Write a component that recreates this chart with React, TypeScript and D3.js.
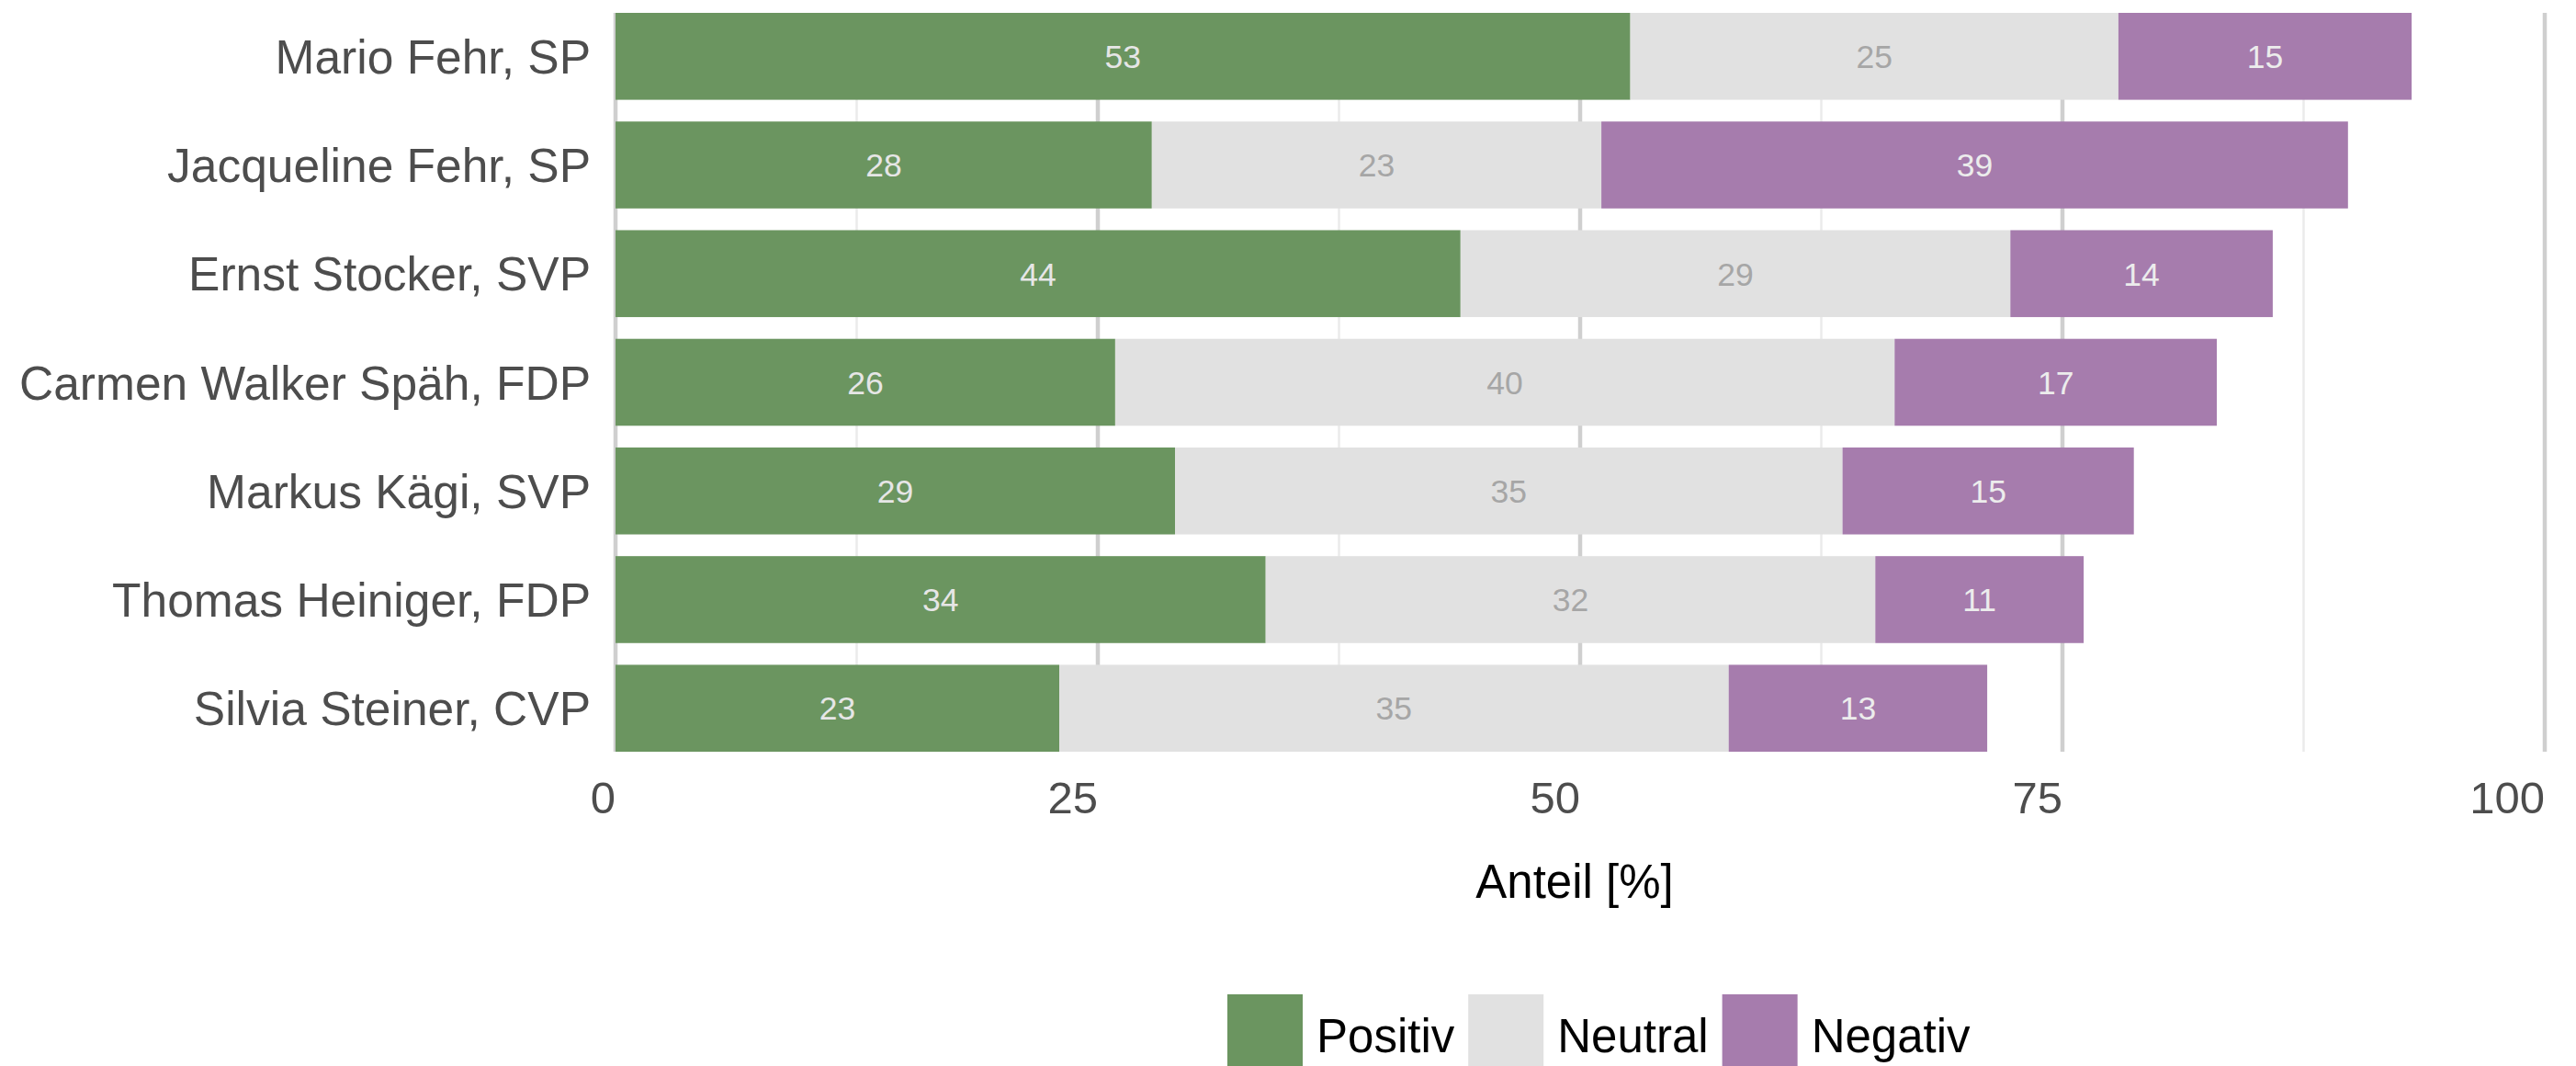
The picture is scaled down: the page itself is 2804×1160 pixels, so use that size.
// Stacked horizontal bar chart: Anteil positiver / neutraler / negativer Nennungen pro Person
import React, { useEffect, useRef } from 'react';
import * as d3 from 'd3';

const politicians = [
  'Mario Fehr, SP',
  'Jacqueline Fehr, SP',
  'Ernst Stocker, SVP',
  'Carmen Walker Späh, FDP',
  'Markus Kägi, SVP',
  'Thomas Heiniger, FDP',
  'Silvia Steiner, CVP',
];
const positiv = [52.6, 27.8, 43.8, 25.9, 29.0, 33.7, 23.0];
const neutral = [25.3, 23.3, 28.5, 40.4, 34.6, 31.6, 34.7];
const negativ = [15.2, 38.7, 13.6, 16.7, 15.1, 10.8, 13.4];

const categories = ['Positiv', 'Neutral', 'Negativ'];
const colors = ['#6b9560', '#e1e1e1', '#a67cad'];
const labelColors = ['#e6e6e6', '#a6a6a6', '#ececec'];
const xTicks = [0, 25, 50, 75, 100];
const xMinorTicks = [12.5, 37.5, 62.5, 87.5];

const FONT = '"Liberation Sans", Arial, Helvetica, sans-serif';

const App = () => {
  const svgRef = useRef(null);

  useEffect(() => {
    const width = 2804;
    const height = 1160;
    const margin = { top: 14, right: 34, bottom: 342, left: 670 };

    const svg = d3.select(svgRef.current);
    svg.selectAll('*').remove();
    svg.attr('width', width).attr('height', height).style('font-family', FONT);

    const rows = politicians.map((name, i) => ({
      name,
      Positiv: positiv[i],
      Neutral: neutral[i],
      Negativ: negativ[i],
    }));

    const x = d3.scaleLinear().domain([0, 100]).range([margin.left, width - margin.right]);
    const y = d3.scaleBand()
      .domain(politicians)
      .range([margin.top, height - margin.bottom])
      .paddingInner(0.2)
      .paddingOuter(0);

    const color = d3.scaleOrdinal().domain(categories).range(colors);
    const textColor = d3.scaleOrdinal().domain(categories).range(labelColors);

    // grid
    const grid = svg.append('g');
    grid.selectAll('line.minor')
      .data(xMinorTicks)
      .enter()
      .append('line')
      .attr('x1', d => x(d))
      .attr('x2', d => x(d))
      .attr('y1', margin.top)
      .attr('y2', height - margin.bottom)
      .attr('stroke', '#ebebeb')
      .attr('stroke-width', 2.5);
    grid.selectAll('line.major')
      .data(xTicks)
      .enter()
      .append('line')
      .attr('x1', d => x(d))
      .attr('x2', d => x(d))
      .attr('y1', margin.top)
      .attr('y2', height - margin.bottom)
      .attr('stroke', '#cfcfcf')
      .attr('stroke-width', 4.5);

    // stacked bars
    const series = d3.stack().keys(categories)(rows);

    const layers = svg.selectAll('g.layer')
      .data(series)
      .enter()
      .append('g')
      .attr('fill', d => color(d.key));

    layers.selectAll('rect')
      .data(d => d)
      .enter()
      .append('rect')
      .attr('x', d => x(d[0]))
      .attr('y', d => y(d.data.name))
      .attr('width', d => x(d[1]) - x(d[0]))
      .attr('height', y.bandwidth());

    // value labels
    series.forEach(s => {
      svg.append('g')
        .selectAll('text')
        .data(s)
        .enter()
        .append('text')
        .attr('x', d => (x(d[0]) + x(d[1])) / 2)
        .attr('y', d => y(d.data.name) + y.bandwidth() / 2)
        .attr('dy', '0.36em')
        .attr('text-anchor', 'middle')
        .attr('font-size', 35.5)
        .attr('fill', textColor(s.key))
        .text(d => Math.round(d[1] - d[0]));
    });

    // y axis labels
    svg.append('g')
      .selectAll('text')
      .data(politicians)
      .enter()
      .append('text')
      .attr('x', margin.left - 27)
      .attr('y', d => y(d) + y.bandwidth() / 2)
      .attr('dy', '0.36em')
      .attr('text-anchor', 'end')
      .attr('font-size', 51.5)
      .attr('fill', '#4d4d4d')
      .text(d => d);

    // x axis tick labels
    svg.append('g')
      .selectAll('text')
      .data(xTicks)
      .enter()
      .append('text')
      .attr('x', d => x(d))
      .attr('y', 885)
      .attr('text-anchor', 'end')
      .attr('font-size', 49)
      .attr('fill', '#4d4d4d')
      .text(d => d);

    // axis title
    svg.append('text')
      .attr('x', (x(0) + x(100)) / 2 - 6)
      .attr('y', 977)
      .attr('text-anchor', 'middle')
      .attr('font-size', 51)
      .attr('fill', '#000')
      .text('Anteil [%]');

    // legend
    const legend = svg.append('g');
    let lx = 1336;
    categories.forEach(cat => {
      legend.append('rect')
        .attr('x', lx)
        .attr('y', 1082)
        .attr('width', 82)
        .attr('height', 82)
        .attr('fill', color(cat));
      const t = legend.append('text')
        .attr('x', lx + 82 + 15)
        .attr('y', 1145)
        .attr('font-size', 51)
        .attr('fill', '#000')
        .text(cat);
      const w = t.node().getComputedTextLength();
      lx = lx + 82 + 15 + w + 15;
    });
  }, []);

  return (
    <div>
      <svg ref={svgRef} style={{ position: 'absolute', left: 0, top: 0, display: 'block' }}></svg>
    </div>
  );
};

export default App;
